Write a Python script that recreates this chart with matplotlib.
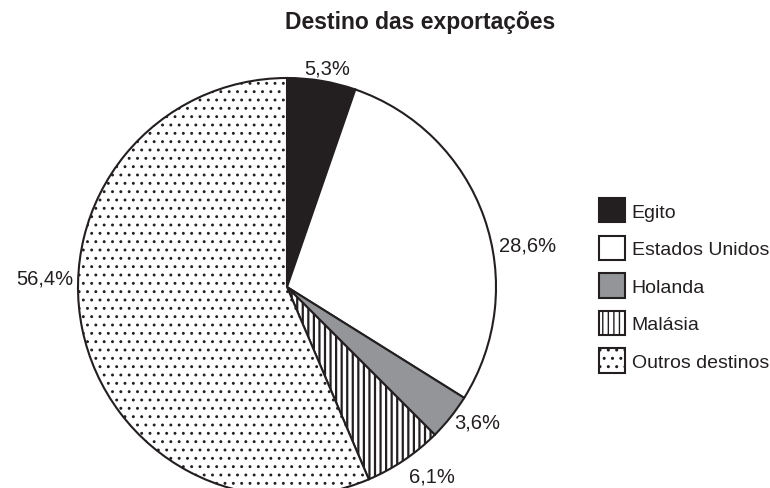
import matplotlib.pyplot as plt
import numpy as np

# DATA
destinos = ['Egito', 'Estados Unidos', 'Holanda', 'Malásia', 'Outros destinos']
valores = [5.3, 28.6, 3.6, 6.1, 56.4]
rotulos = ['5,3%', '28,6%', '3,6%', '6,1%', '56,4%']

# STYLE
cores = ['#231f20', 'white', '#939598', 'white', 'white']
hachuras = [None, None, None, '|||', '..']
hachura_lw = [1.0, 1.0, 1.0, 1.6, 0.9]
# label placement (angle in degrees, distance in radius units)
pos_rotulos = [(79.6, 1.065), (9.9, 1.17), (-35.4, 1.115), (-52.5, 1.14), (177.8, 1.16)]

plt.rcParams['font.family'] = ['Liberation Sans', 'DejaVu Sans']
plt.rcParams['text.color'] = '#231f20'

W, H = 770, 489
cx, cy, r = 287, 288, 209

fig = plt.figure(figsize=(W / 100, H / 100), dpi=100)
ax = fig.add_axes([(cx - r) / W, (H - cy - r) / H, 2 * r / W, 2 * r / H])

wedges, _ = ax.pie(valores, colors=cores, startangle=90, counterclock=False,
                   radius=1, wedgeprops=dict(edgecolor='#231f20', linewidth=1.5))
for w, h, lw in zip(wedges, hachuras, hachura_lw):
    if h:
        w.set_hatch(h)
        w.set_hatch_linewidth(lw)

ax.set_xlim(-1, 1)
ax.set_ylim(-1, 1)
ax.set_aspect('equal')
ax.axis('off')

for txt, (ang, d) in zip(rotulos, pos_rotulos):
    a = np.deg2rad(ang)
    ax.text(d * np.cos(a), d * np.sin(a), txt, ha='center', va='center',
            fontsize=14.5, clip_on=False)

fig.text(420 / W, 1 - 22 / H, 'Destino das exportações', ha='center', va='center',
         fontsize=16.5, fontweight='bold')

fig.legend(wedges, destinos, loc='upper left', bbox_to_anchor=(599 / W, 1 - 199 / H),
           frameon=False, fontsize=14, borderpad=0, borderaxespad=0,
           handlelength=1.33, handleheight=1.55, handletextpad=0.35,
           labelspacing=0.68)

fig.savefig('out.png', dpi=100)
